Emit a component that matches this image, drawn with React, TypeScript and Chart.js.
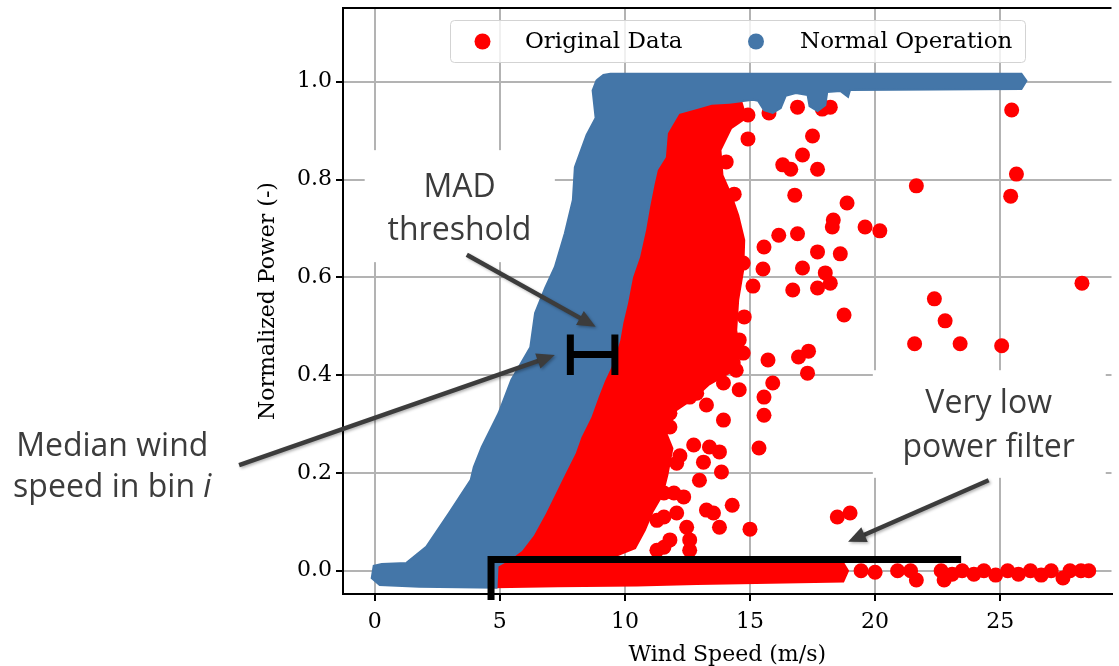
import React, { useEffect, useRef } from 'react';
import { Chart, registerables } from 'chart.js';

Chart.register(...registerables);

// ---------- axes ----------
const X_MIN = -1.267;
const X_MAX = 29.45;
const Y_MIN = -0.0476;
const Y_MAX = 1.1507;
const X_TICK_STEP = 5;
const Y_TICK_STEP = 0.2;

// ---------- series ----------
// Outline of the dense "Normal Operation" point cloud (wind speed, normalized power)
const normalOperationEnvelope: number[][] = [
  [8.87, 1.003], [9.14, 1.014], [9.42, 1.016], [25.85, 1.016], [26.05, 1.002], [25.85, 0.985],
  [19.0, 0.983], [18.92, 0.969], [18.61, 0.981], [18.09, 0.979], [18.01, 0.952], [17.7, 0.94],
  [17.38, 0.95], [17.3, 0.973], [16.83, 0.977], [16.43, 0.971], [16.23, 0.946], [15.91, 0.936],
  [15.56, 0.942], [15.32, 0.961], [15.12, 0.963], [14.17, 0.957], [13.46, 0.955], [12.87, 0.946],
  [12.15, 0.936], [11.68, 0.895], [11.6, 0.846], [11.28, 0.82], [11.16, 0.793], [10.97, 0.744],
  [10.81, 0.697], [10.57, 0.642], [10.29, 0.601], [10.09, 0.548], [9.9, 0.507], [9.78, 0.472],
  [9.5, 0.425], [9.18, 0.39], [8.91, 0.355], [8.63, 0.315], [8.23, 0.274], [8.0, 0.241],
  [7.6, 0.2], [7.32, 0.171], [6.81, 0.118], [6.33, 0.073], [5.86, 0.042], [5.34, 0.022],
  [4.91, 0.01], [4.87, -0.035], [1.78, -0.033], [0.2, -0.029], [-0.12, -0.015], [-0.04, 0.01],
  [0.28, 0.014], [1.27, 0.016], [2.06, 0.049], [2.97, 0.118], [3.84, 0.186], [3.96, 0.212],
  [4.28, 0.253], [4.95, 0.322], [5.46, 0.39], [6.22, 0.457], [6.41, 0.527], [6.81, 0.578],
  [7.2, 0.621], [7.6, 0.69], [7.92, 0.758], [8.0, 0.825], [8.47, 0.891], [8.83, 0.926],
  [8.71, 0.982], [8.87, 1.003],
];

// Dense part of "Original Data" right of the normal band
const originalDenseCore: number[][] = [
  [11.3, 0.95], [14.65, 0.96], [14.85, 0.926], [14.25, 0.905], [13.82, 0.86], [13.9, 0.809],
  [14.25, 0.768], [14.53, 0.727], [14.77, 0.676], [14.73, 0.615], [14.53, 0.554], [14.45, 0.492],
  [14.61, 0.441], [14.25, 0.407], [13.34, 0.38], [12.79, 0.354], [12.07, 0.329], [11.6, 0.288],
  [11.9, 0.25], [11.7, 0.196], [11.5, 0.155], [11.1, 0.12], [10.8, 0.083], [10.41, 0.046],
  [9.62, 0.03], [8.12, 0.022], [6.53, 0.018], [5.15, 0.01], [4.95, -0.015], [6.14, 0.093],
  [7.72, 0.267], [9.38, 0.492], [10.49, 0.717], [11.0, 0.86], [11.3, 0.95],
];

// Continuous zero-power row of "Original Data"
const originalZeroBand: number[][] = [
  [4.83, 0.016], [18.73, 0.016], [18.92, 0.0], [18.73, -0.022], [15.24, -0.025], [12.87, -0.027],
  [10.49, -0.03], [7.32, -0.032], [4.83, -0.034], [4.83, 0.016],
];

// Individual zero-power points beyond the continuous row
const originalZeroPoints: number[][] = [
  [19.44, 0.0], [20.0, -0.003], [20.9, 0.0], [21.42, 0.0], [21.65, -0.019], [22.64, 0.0],
  [22.76, -0.019], [23.08, -0.007], [23.48, 0.0], [23.95, -0.007], [24.35, 0.0], [24.82, -0.009],
  [25.3, 0.0], [25.73, -0.007], [26.21, 0.0], [26.64, -0.009], [27.04, 0.0], [27.51, -0.015],
  [27.79, 0.0], [28.23, 0.0], [28.54, 0.0],
];

// Scattered "Original Data" points
const originalScatter: number[][] = [
  [25.46, 0.942], [25.65, 0.811], [25.42, 0.766], [21.65, 0.787], [28.27, 0.588], [22.37, 0.556],
  [22.8, 0.511], [21.58, 0.464], [23.4, 0.464], [25.06, 0.46], [18.76, 0.523],
  [16.9, 0.948], [15.76, 0.936], [18.21, 0.948], [17.89, 0.944], [17.5, 0.889], [17.1, 0.85],
  [16.31, 0.83], [16.63, 0.821], [17.7, 0.821], [16.79, 0.768], [18.88, 0.752], [18.33, 0.717],
  [18.29, 0.703], [19.6, 0.703], [20.19, 0.695], [16.15, 0.686], [16.9, 0.689], [15.56, 0.662],
  [17.7, 0.652], [18.61, 0.648], [17.1, 0.619], [15.52, 0.617], [18.01, 0.609], [16.71, 0.574],
  [17.7, 0.578], [18.21, 0.588], [15.12, 0.582],
  [14.92, 0.932], [14.92, 0.883], [14.05, 0.836], [13.94, 0.907], [14.37, 0.77], [14.45, 0.662],
  [14.73, 0.629],
  [15.72, 0.431], [16.94, 0.437], [17.34, 0.449], [17.3, 0.404], [15.91, 0.384], [15.56, 0.355],
  [15.56, 0.318], [15.36, 0.251], [15.0, 0.085], [18.49, 0.11], [19.0, 0.118],
  [14.29, 0.134], [13.78, 0.089], [13.26, 0.124], [12.59, 0.063], [12.47, 0.089], [12.07, 0.118],
  [11.36, 0.261], [12.75, 0.257], [13.38, 0.253], [13.78, 0.243], [13.14, 0.222], [13.86, 0.202],
  [12.07, 0.22], [13.94, 0.308], [13.26, 0.339], [14.57, 0.37], [14.45, 0.41], [14.73, 0.445],
  [14.57, 0.472], [14.77, 0.519], [13.54, 0.875],
  [14.33, 0.425], [13.54, 0.431], [13.94, 0.384], [12.87, 0.363], [12.98, 0.185], [12.35, 0.151],
  [11.56, 0.048], [13.54, 0.118], [11.8, 0.063], [12.59, 0.042],
  [11.56, 0.159], [11.28, 0.103], [11.8, 0.322], [11.8, 0.294], [12.2, 0.235],
  [11.8, 0.376], [12.59, 0.355], [11.96, 0.343], [11.96, 0.159], [11.56, 0.11], [11.28, 0.042],
];

// ---------- annotations (data coordinates) ----------
const madBox = { x1: -0.4, x2: 7.2, yTop: 0.86, yBottom: 0.631, cx: 3.39, lines: ['MAD', 'threshold'], baselines: [0.764, 0.676] };
const lowBox = { x1: 19.91, x2: 29.22, yTop: 0.41, yBottom: 0.19, cx: 24.54, lines: ['Very low', 'power filter'], baselines: [0.322, 0.233] };
const medianText = { cx: -10.49, baselines: [0.235, 0.151] };
const arrows: number[][][] = [
  [[3.68, 0.646], [8.83, 0.499]],
  [[-5.42, 0.216], [7.2, 0.441]],
  [[24.54, 0.185], [18.92, 0.059]],
];
const bracket = { x1: 7.82, x2: 9.6, yLow: 0.4, yHigh: 0.483, yMid: 0.442 };
const filterLine: number[][] = [[4.65, -0.06], [4.65, 0.023], [23.44, 0.023]];

const BLUE = '#4476a8';
const RED = '#ff0000';
const GRID = '#b3b3b3';
const SERIF = "'DejaVu Serif', serif";
const SANS = "'Open Sans', sans-serif";
const NOTE = '#3c3c3c';

const toPts = (a: number[][]) => a.map(([x, y]) => ({ x, y }));

function drawArrow(ctx: CanvasRenderingContext2D, x1: number, y1: number, x2: number, y2: number) {
  const ang = Math.atan2(y2 - y1, x2 - x1);
  const head = 18;
  const half = 8;
  const bx = x2 - head * Math.cos(ang);
  const by = y2 - head * Math.sin(ang);
  ctx.beginPath();
  ctx.moveTo(x1, y1);
  ctx.lineTo(bx + 2 * Math.cos(ang), by + 2 * Math.sin(ang));
  ctx.stroke();
  ctx.beginPath();
  ctx.moveTo(x2, y2);
  ctx.lineTo(bx + half * Math.sin(ang), by - half * Math.cos(ang));
  ctx.lineTo(bx - half * Math.sin(ang), by + half * Math.cos(ang));
  ctx.closePath();
  ctx.fill();
}

const annotationPlugin = {
  id: 'annotations',
  afterDraw(chart: any) {
    const { ctx, chartArea } = chart;
    const xs = chart.scales.x;
    const ys = chart.scales.y;
    const px = (v: number) => xs.getPixelForValue(v);
    const py = (v: number) => ys.getPixelForValue(v);
    ctx.save();

    // top spine
    ctx.strokeStyle = '#000';
    ctx.lineWidth = 2;
    ctx.beginPath();
    ctx.moveTo(chartArea.left - 1, chartArea.top);
    ctx.lineTo(chartArea.right, chartArea.top);
    ctx.stroke();

    // legend
    const lx = 450, ly = 20, lw = 575, lh = 42;
    ctx.beginPath();
    ctx.roundRect(lx + 0.5, ly + 0.5, lw, lh, 4);
    ctx.fillStyle = 'rgba(255,255,255,0.8)';
    ctx.fill();
    ctx.strokeStyle = '#d3d3d3';
    ctx.lineWidth = 1;
    ctx.stroke();
    ctx.fillStyle = RED;
    ctx.beginPath();
    ctx.arc(482.5, 41.5, 8, 0, Math.PI * 2);
    ctx.fill();
    ctx.fillStyle = BLUE;
    ctx.beginPath();
    ctx.arc(756, 41.5, 8, 0, Math.PI * 2);
    ctx.fill();
    ctx.fillStyle = '#000';
    ctx.font = `23px ${SERIF}`;
    ctx.textBaseline = 'middle';
    ctx.textAlign = 'left';
    ctx.fillText('Original Data', 525, 42);
    ctx.fillText('Normal Operation', 800, 42);

    // text boxes
    ctx.textBaseline = 'alphabetic';
    ctx.textAlign = 'center';
    for (const b of [madBox, lowBox]) {
      ctx.fillStyle = '#ffffff';
      ctx.fillRect(px(b.x1), py(b.yTop), px(b.x2) - px(b.x1), py(b.yBottom) - py(b.yTop));
      ctx.fillStyle = NOTE;
      ctx.font = `32px ${SANS}`;
      b.lines.forEach((t, i) => ctx.fillText(t, px(b.cx), py(b.baselines[i])));
    }

    // median text (outside axes)
    ctx.fillStyle = NOTE;
    ctx.font = `32px ${SANS}`;
    ctx.textAlign = 'center';
    ctx.fillText('Median wind', px(medianText.cx), py(medianText.baselines[0]));
    const part1 = 'speed in bin ';
    const w1 = ctx.measureText(part1).width;
    ctx.font = `italic 32px ${SANS}`;
    const w2 = ctx.measureText('i').width;
    const start = px(medianText.cx) - (w1 + w2) / 2;
    ctx.textAlign = 'left';
    ctx.font = `32px ${SANS}`;
    ctx.fillText(part1, start, py(medianText.baselines[1]));
    ctx.font = `italic 32px ${SANS}`;
    ctx.fillText('i', start + w1, py(medianText.baselines[1]));

    // arrows
    ctx.save();
    ctx.strokeStyle = NOTE;
    ctx.fillStyle = NOTE;
    ctx.lineWidth = 4.5;
    ctx.lineCap = 'butt';
    ctx.shadowColor = 'rgba(0,0,0,0.3)';
    ctx.shadowBlur = 3;
    ctx.shadowOffsetX = 1.5;
    ctx.shadowOffsetY = 1.5;
    for (const [[a, b], [c, d]] of arrows) drawArrow(ctx, px(a), py(b), px(c), py(d));
    ctx.restore();

    // MAD bracket
    ctx.strokeStyle = '#000';
    ctx.lineWidth = 7;
    ctx.lineCap = 'butt';
    ctx.beginPath();
    ctx.moveTo(px(bracket.x1), py(bracket.yLow));
    ctx.lineTo(px(bracket.x1), py(bracket.yHigh));
    ctx.moveTo(px(bracket.x2), py(bracket.yLow));
    ctx.lineTo(px(bracket.x2), py(bracket.yHigh));
    ctx.moveTo(px(bracket.x1), py(bracket.yMid));
    ctx.lineTo(px(bracket.x2), py(bracket.yMid));
    ctx.stroke();

    // very-low-power filter line
    ctx.lineJoin = 'miter';
    ctx.beginPath();
    filterLine.forEach(([x, y], i) => (i === 0 ? ctx.moveTo(px(x), py(y)) : ctx.lineTo(px(x), py(y))));
    ctx.stroke();

    ctx.restore();
  },
};

export default function App() {
  const ref = useRef<HTMLCanvasElement>(null);
  useEffect(() => {
    if (!ref.current) return;
    const polygon = (data: number[][], color: string, order: number) => ({
      type: 'line' as const,
      data: toPts(data),
      order,
      backgroundColor: color,
      borderColor: color,
      borderWidth: 2,
      pointRadius: 0,
      tension: 0,
      fill: 'shape',
    });
    const chart = new Chart(ref.current, {
      type: 'scatter',
      data: {
        datasets: [
          { ...polygon(normalOperationEnvelope, BLUE, 0), label: 'Normal Operation' } as any,
          {
            type: 'scatter',
            label: 'Original Data',
            data: toPts(originalScatter),
            order: 1,
            backgroundColor: RED,
            borderWidth: 0,
            pointRadius: 7.5,
          },
          {
            type: 'scatter',
            label: 'Original Data (zero power)',
            data: toPts(originalZeroPoints),
            order: 1,
            backgroundColor: RED,
            borderWidth: 0,
            pointRadius: 7.5,
          },
          polygon(originalDenseCore, RED, 2) as any,
          polygon(originalZeroBand, RED, 2) as any,
        ],
      },
      options: {
        responsive: false,
        animation: false,
        devicePixelRatio: 1,
        layout: { padding: { top: 8, left: 0, right: 0, bottom: 0 } },
        plugins: { legend: { display: false }, tooltip: { enabled: false } },
        scales: {
          x: {
            type: 'linear',
            min: X_MIN,
            max: X_MAX,
            z: 1,
            afterFit: (s: any) => {
              s.height = 72;
              s.paddingLeft = 0;
              s.paddingRight = 0;
            },
            ticks: {
              stepSize: X_TICK_STEP,
              includeBounds: false,
              autoSkip: false,
              maxRotation: 0,
              color: '#000',
              padding: 8,
              font: { size: 22, family: SERIF },
              callback: (v: any) => String(v),
            },
            grid: { color: GRID, lineWidth: 2, tickColor: '#000', tickWidth: 2, tickLength: 7 },
            border: { display: true, color: '#000', width: 2 },
            title: {
              display: true,
              text: 'Wind Speed (m/s)',
              color: '#000',
              font: { size: 22, family: SERIF },
              padding: { top: 0, bottom: -2 },
            },
          },
          y: {
            type: 'linear',
            min: Y_MIN,
            max: Y_MAX,
            z: 1,
            afterFit: (s: any) => {
              s.width = 343;
              s.paddingTop = 0;
              s.paddingBottom = 0;
            },
            ticks: {
              stepSize: Y_TICK_STEP,
              includeBounds: false,
              autoSkip: false,
              color: '#000',
              padding: 4,
              font: { size: 22, family: SERIF },
              callback: (v: any) => Number(v).toFixed(1),
            },
            grid: { color: GRID, lineWidth: 2, tickColor: '#000', tickWidth: 2, tickLength: 7 },
            border: { display: true, color: '#000', width: 2 },
            title: {
              display: true,
              text: 'Normalized Power (-)',
              color: '#000',
              font: { size: 22, family: SERIF },
              padding: { top: 255, bottom: 0 },
            },
          },
        },
      } as any,
      plugins: [annotationPlugin],
    });
    return () => chart.destroy();
  }, []);
  return (
    <div style={{ position: 'absolute', left: 0, top: 0, width: 1119, height: 666, background: '#fff' }}>
      <canvas ref={ref} width={1119} height={666} style={{ display: 'block', width: 1119, height: 666 }} />
    </div>
  );
}
